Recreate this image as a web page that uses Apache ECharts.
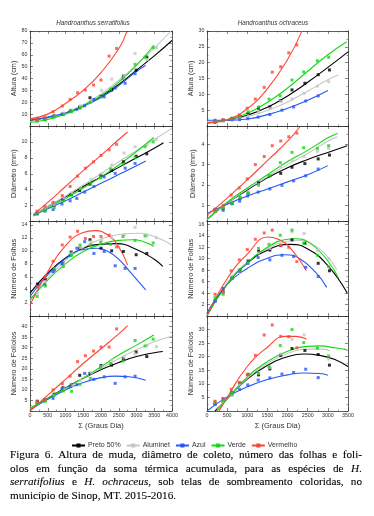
<!DOCTYPE html>
<html>
<head>
<meta charset="utf-8">
<script src="https://cdn.jsdelivr.net/npm/echarts@6/dist/echarts.min.js"></script>
<style>
  html, body { margin: 0; padding: 0; background: #fff; }
  #chart { position: absolute; left: 0; top: 0; width: 374px; height: 450px; }
  #caption {
    position: absolute; left: 10px; top: 448px; width: 352px;
    font-family: 'Liberation Serif', 'DejaVu Serif', serif;
    font-size: 11.2px; line-height: 13.5px; color: #000;
    -webkit-text-stroke: 0.1px #000;
  }
  #caption div { text-align: justify; text-align-last: justify; }
  #caption div.last { text-align: left; text-align-last: left; }
</style>
</head>
<body>
<div id="chart"></div>
<div id="caption">
  <div>Figura 6. Altura de muda, diâmetro de coleto, número das folhas e foli-</div>
  <div>olos em função da soma térmica acumulada, para as espécies de <i>H.</i></div>
  <div><i>serratifolius</i> e <i>H. ochraceus</i>, sob telas de sombreamento coloridas, no</div>
  <div class="last">município de Sinop, MT. 2015-2016.</div>
</div>
<script>
// treatments, in legend order: preto, aluminet, azul, verde, vermelho
const TREATMENTS = ['Preto 50%', 'Aluminet', 'Azul', 'Verde', 'Vermelho'];
const COLORS = ['#000000', '#c6c6c6', '#2457f5', '#14d814', '#ff4436'];

// accumulated degree-days of each sampling (H. serratifolius / H. ochraceus)
const GD_SERR = [
  [210, 430, 680, 930, 1160, 1400, 1690, 2000, 2300, 2630, 2990, 3290],
  [210, 430, 680, 950, 1180, 1420, 1720, 2020, 2300, 2650, 2960, 3300, 3560],
  [200, 420, 650, 900, 1130, 1320, 1540, 1800, 2090, 2400, 2680, 2960],
  [200, 430, 680, 940, 1170, 1410, 1700, 1990, 2270, 2620, 2960, 3240, 3470],
  [200, 420, 650, 910, 1130, 1340, 1560, 1790, 2000, 2230, 2440]
];
const GD_OCHR = [
  [200, 400, 620, 820, 1020, 1280, 1560, 1830, 2110, 2430, 2760, 3040],
  [200, 400, 620, 820, 1020, 1280, 1560, 1830, 2110, 2410, 2740, 3020],
  [200, 400, 620, 810, 1010, 1270, 1560, 1860, 2150, 2450, 2760],
  [200, 400, 620, 820, 1020, 1280, 1540, 1820, 2110, 2400, 2740, 3020],
  [200, 400, 600, 800, 1000, 1200, 1420, 1620, 1830, 2030, 2230]
];

// --- H. serratifolius ---
const ALTURA_SERR = [
  [5, 6, 8.5, 10, 13, 16, 23.8, 25, 30.3, 42, 47, 58],
  [4.5, 6, 8, 11, 13.5, 17, 21, 30, 39.5, 42, 61, 56, 66],
  [5, 6, 8, 10, 12.5, 14, 17, 22.4, 24.6, 32, 36, 44],
  [4, 5, 7.5, 9.5, 12, 15, 20, 24.5, 31, 40, 52, 58, 66],
  [5.5, 7.5, 12, 16.8, 22.4, 28, 30.3, 34.5, 38.7, 58.8, 65.3]
];
const ALTURA_SERR_FIT = [
  [[0, 4.5], [500, 7], [1000, 11], [1500, 17], [2000, 25], [2500, 35], [3000, 47], [3500, 59], [4000, 72]],
  [[0, 4], [500, 6.5], [1000, 11], [1500, 18], [2000, 27], [2500, 38.5], [3000, 51.5], [3500, 65.5], [3970, 80]],
  [[0, 5], [500, 7.5], [1000, 11], [1500, 16.5], [2000, 24], [2500, 34], [3000, 46], [3260, 51]],
  [[0, 3], [500, 5.5], [1000, 10], [1500, 16.5], [2000, 25.5], [2500, 37], [3000, 51], [3490, 68]],
  [[0, 6], [500, 10], [1000, 19], [1500, 30], [2000, 45], [2500, 65], [2720, 79]]
];
const DIAM_SERR = [
  [1.0, 1.5, 2.0, 2.8, 3.4, 3.9, 4.7, 5.8, 6.4, 7.5, 8.2, 8.5],
  [1.1, 1.6, 2.1, 3.0, 3.6, 4.2, 5.3, 6.0, 7.1, 8.6, 9.4, 9.6, 10.3],
  [1.0, 1.3, 1.5, 2.2, 2.6, 2.9, 3.7, 4.4, 5.6, 6.05, 6.7, 7.3],
  [0.9, 1.4, 1.7, 2.6, 3.3, 4.1, 4.8, 5.5, 6.6, 7.2, 8.0, 9.4, 10.0],
  [1.3, 1.9, 2.4, 3.25, 4.4, 5.7, 6.7, 7.5, 8.3, 9.0, 9.7]
];
const DIAM_SERR_FIT = [
  [[100, 0.8], [500, 1.9], [1000, 3.1], [1500, 4.4], [2000, 5.6], [2500, 6.8], [3000, 8.0], [3500, 9.2], [3760, 9.9]],
  [[100, 0.8], [500, 1.9], [1000, 3.2], [1500, 4.6], [2000, 6.0], [2500, 7.5], [3000, 8.9], [3500, 10.3], [4000, 11.7]],
  [[100, 0.8], [500, 1.6], [1000, 2.6], [1500, 3.7], [2000, 4.8], [2500, 5.9], [3000, 7.0], [3260, 7.6]],
  [[100, 0.7], [500, 1.7], [1000, 2.9], [1500, 4.2], [2000, 5.6], [2500, 7.1], [3000, 8.8], [3490, 10.55]],
  [[100, 0.9], [500, 2.4], [1000, 4.4], [1500, 6.4], [2000, 8.3], [2500, 10.3], [2750, 11.25]]
];
const FOLHAS_SERR = [
  [4.9, 5.6, 7.0, 8.1, 9.8, 10.4, 11.7, 10.4, 10.0, 9.9, 9.4, 9.6],
  [3.5, 5.3, 6.8, 8.0, 9.6, 10.5, 11.4, 11.6, 12.0, 12.5, 13.6, 12.3, 12.0],
  [4.6, 4.8, 6.8, 8.0, 9.3, 10.4, 11.4, 9.6, 9.9, 7.7, 7.3, 7.3],
  [3.0, 4.6, 7.3, 7.6, 9.3, 10.9, 10.9, 11.3, 11.0, 12.2, 11.6, 12.3, 11.2],
  [4.5, 5.9, 8.4, 10.9, 12.1, 13.0, 11.9, 12.2, 12.2, 12.4, 10.6]
];
const FOLHAS_SERR_FIT = [
  [[0, 3.5], [500, 6.6], [1000, 8.9], [1500, 10.4], [2000, 11.0], [2440, 11.1], [3000, 10.2], [3500, 8.7], [3740, 7.6]],
  [[0, 2.3], [500, 5.8], [1000, 8.5], [1500, 10.5], [2000, 11.8], [2500, 12.5], [3100, 12.7], [3500, 12.2], [4000, 10.9]],
  [[0, 3], [500, 6.3], [1000, 8.8], [1500, 10.2], [1900, 10.4], [2200, 9.9], [2500, 8.7], [2800, 6.9], [3260, 4.0]],
  [[0, 2.5], [500, 5.5], [1000, 8.0], [1500, 9.9], [2000, 11.0], [2500, 11.6], [2900, 11.7], [3200, 11.4], [3490, 10.7]],
  [[0, 1.7], [500, 6.8], [1000, 10.8], [1500, 12.8], [1830, 13.1], [2200, 12.4], [2500, 10.6], [2750, 7.8]]
];
const FOLIOLOS_SERR = [
  [4.6, 5.3, 8, 11, 12.3, 16.9, 17.8, 21.5, 21.7, 24.8, 27.9, 25.8],
  [3.8, 5.3, 7.5, 10.5, 12, 14.5, 18, 21, 24.2, 25.5, 27, 31, 30.5],
  [3.8, 5.3, 6, 10.5, 11.5, 12.5, 17.8, 15, 16.2, 13.1, 16.2, 16.5],
  [3.5, 4.6, 7.5, 9.5, 9.3, 12.6, 15.5, 20.5, 22.5, 23.7, 33.4, 30.8, 34],
  [4.6, 5.5, 10, 13, 16.5, 23.4, 26.2, 28.4, 30.3, 30.3, 38.9]
];
const FOLIOLOS_SERR_FIT = [
  [[0, 1], [500, 6], [1000, 11], [1500, 15.5], [2000, 19.5], [2500, 23], [3000, 25.8], [3500, 27.6], [3740, 28.2]],
  [[0, 1], [500, 5.5], [1000, 10.5], [1500, 15.5], [2000, 20.2], [2500, 24.8], [3000, 29], [3500, 32.8], [4000, 35.4]],
  [[0, 0.5], [500, 5.5], [1000, 10], [1500, 13.5], [2000, 15.8], [2400, 16.5], [2800, 16.2], [3260, 14.6]],
  [[0, 1.3], [500, 6], [1000, 10.8], [1500, 15.7], [2000, 21], [2500, 26.5], [3000, 31.2], [3490, 36]],
  [[0, 0], [500, 7.5], [1000, 15], [1500, 22.5], [2000, 29.5], [2500, 36.5], [2750, 40.4]]
];

// --- H. ochraceus ---
const ALTURA_OCHR = [
  [1.2, 1.7, 2.2, 3.0, 4.0, 5.6, 6.0, 8.0, 11.4, 13.5, 16.2, 17.7],
  [1.4, 1.6, 2.0, 2.6, 3.2, 4.5, 5.5, 7.8, 8.5, 10.3, 12.6, 14],
  [1.8, 1.9, 2.0, 2.0, 2.3, 2.8, 3.6, 5.0, 6.0, 7.9, 9.5],
  [1.3, 1.8, 2.5, 3.0, 4.5, 6.0, 8.5, 9.5, 14.5, 17.1, 20.6, 21.7],
  [1.3, 2.0, 2.3, 3.5, 5.6, 8.5, 12.2, 17, 18.7, 23.1, 25.6]
];
const ALTURA_OCHR_FIT = [
  [[0, 1], [500, 1.8], [1000, 3.4], [1500, 5.9], [2000, 9.5], [2500, 13.8], [3000, 18.5], [3510, 23.5]],
  [[0, 1.3], [500, 1.8], [1000, 3.0], [1500, 4.9], [2000, 7.6], [2500, 11], [3000, 14.6], [3260, 16.1]],
  [[0, 1.8], [500, 1.8], [1000, 2.2], [1500, 3.6], [2000, 5.6], [2500, 8.1], [3000, 11.2]],
  [[0, 1], [500, 2], [1000, 4], [1500, 7.5], [2000, 12], [2500, 17.3], [3000, 22.5], [3470, 26.6]],
  [[0, 1], [500, 2], [1000, 5.5], [1500, 11.8], [2000, 21], [2350, 29.8]]
];
const DIAM_OCHR = [
  [0.7, 0.85, 1.1, 1.35, 1.6, 2.1, 2.45, 2.57, 2.87, 3.05, 3.28, 3.47],
  [0.7, 0.9, 1.1, 1.4, 1.65, 2.0, 2.5, 2.9, 3.2, 3.4, 3.65, 3.8],
  [0.8, 0.75, 1.07, 1.2, 1.45, 1.65, 1.8, 1.98, 2.2, 2.45, 2.78],
  [0.7, 0.9, 1.1, 1.4, 1.6, 2.0, 2.47, 3.1, 3.6, 3.83, 3.8, 3.93],
  [0.8, 1.0, 1.5, 1.85, 2.3, 3.0, 3.4, 3.93, 4.16, 4.37, 4.55]
];
const DIAM_OCHR_FIT = [
  [[0, 0.3], [500, 1.1], [1000, 1.75], [1500, 2.35], [2000, 2.85], [2500, 3.25], [3000, 3.6], [3480, 3.93]],
  [[0, 0.3], [500, 1.1], [1000, 1.8], [1500, 2.4], [2000, 3.0], [2500, 3.55], [3000, 4.15], [3240, 4.37]],
  [[0, 0.6], [500, 1.05], [1000, 1.45], [1500, 1.8], [2000, 2.15], [2500, 2.5], [3000, 2.95]],
  [[0, 0.3], [500, 1.15], [1000, 1.85], [1500, 2.5], [2000, 3.15], [2500, 3.7], [3000, 4.32], [3240, 4.53]],
  [[0, 0.5], [500, 1.35], [1000, 2.25], [1500, 3.2], [2000, 4.15], [2300, 4.85]]
];
const FOLHAS_OCHR = [
  [2.6, 4.2, 6.6, 8.0, 9.6, 11.3, 11.5, 12.3, 13.3, 12.7, 9.2, 7.9],
  [2.6, 4.0, 6.5, 7.6, 9.2, 11.0, 11.8, 12.5, 14.7, 14.4, 11.4, 10.0],
  [2.6, 4.8, 6.6, 7.8, 9.2, 10.2, 9.8, 10.6, 10.4, 8.5, 6.9],
  [3.2, 3.8, 6.8, 8.0, 9.4, 11.8, 12.5, 14.1, 15.0, 12.7, 10.6, 8.6],
  [3.8, 4.3, 7.9, 9.8, 11.6, 13.4, 14.5, 15.0, 12.3, 12.0, 9.5]
];
const FOLHAS_OCHR_FIT = [
  [[0, 0.3], [500, 5.6], [1000, 9.2], [1500, 11.5], [2060, 12.5], [2500, 11.7], [3000, 8.8], [3480, 4.0]],
  [[0, 0.5], [500, 5.8], [1000, 9.4], [1500, 11.8], [2000, 13.0], [2300, 13.2], [2700, 12.2], [3000, 10.3], [3220, 8.1]],
  [[0, 0.5], [500, 5.5], [1000, 8.3], [1500, 10.1], [1940, 10.7], [2300, 10.0], [2700, 7.6], [2970, 5.0]],
  [[0, 0], [500, 5.5], [1000, 9.3], [1500, 12], [2000, 13.4], [2200, 13.5], [2600, 12.5], [3000, 9.6], [3260, 6.7]],
  [[0, 0], [500, 6.5], [1000, 10.8], [1520, 13.8], [1800, 13.3], [2100, 11.6], [2470, 7.9]]
];
const FOLIOLOS_OCHR = [
  [2.5, 3.5, 6, 10.2, 13.5, 13.3, 15.5, 20.5, 23, 22.3, 20.8, 16.9],
  [2.5, 3.5, 6, 10, 13, 14, 16, 21, 26.4, 28, 23, 19.1],
  [2.5, 4.5, 6.8, 8, 9.6, 11.4, 12.2, 13.6, 14.2, 15.4, 12.3],
  [3.3, 3.8, 6.5, 10.5, 13.4, 13.8, 16.3, 24.1, 30, 25.2, 23.2, 20.3],
  [3.6, 4.6, 8, 10.5, 13.3, 20.5, 28, 31.7, 27.5, 27.4, 23.3]
];
const FOLIOLOS_OCHR_FIT = [
  [[200, 0], [500, 4.5], [1000, 11.8], [1500, 16.8], [2000, 20], [2400, 21], [2800, 20.5], [3200, 18.8], [3500, 16.4]],
  [[250, 0.5], [500, 4.5], [1000, 12], [1500, 17.5], [2000, 21.2], [2500, 22.8], [2800, 22.8], [3050, 22.3]],
  [[0, 0], [500, 5.2], [1000, 8.9], [1500, 11.6], [2000, 13.3], [2400, 14], [2800, 13.8], [3000, 13.2]],
  [[250, 0], [500, 4.5], [1000, 12.5], [1500, 18.2], [2000, 22], [2500, 23.8], [2800, 24], [3200, 23.2], [3470, 22.6]],
  [[300, 0], [500, 5], [1000, 16.4], [1500, 23.5], [1940, 27.5], [2200, 27.5], [2470, 26.5]]
];

const X_MAX = [4000, 3500];
const SPECIES = ['Handroanthus serratifolius', 'Handroanthus ochraceus'];

// panel grid: column 0 = serratifolius, column 1 = ochraceus
const PANELS = [
  { col: 0, row: 0, name: 'Altura (cm)', y: ALTURA_SERR, fit: ALTURA_SERR_FIT, min: 0, max: 80, step: 10, showMax: true },
  { col: 1, row: 0, name: 'Altura (cm)', y: ALTURA_OCHR, fit: ALTURA_OCHR_FIT, min: 0, max: 30, step: 5, showMax: true },
  { col: 0, row: 1, name: 'Diâmetro (mm)', y: DIAM_SERR, fit: DIAM_SERR_FIT, min: 0, max: 12, step: 2 },
  { col: 1, row: 1, name: 'Diâmetro (mm)', y: DIAM_OCHR, fit: DIAM_OCHR_FIT, min: 0.2, max: 4.9, step: 1, auto: true },
  { col: 0, row: 2, name: 'Número de Folhas', y: FOLHAS_SERR, fit: FOLHAS_SERR_FIT, min: 0, max: 14.5, step: 2, showMax: true },
  { col: 1, row: 2, name: 'Número de Folhas', y: FOLHAS_OCHR, fit: FOLHAS_OCHR_FIT, min: 0, max: 16.5, step: 2, showMax: true },
  { col: 0, row: 3, name: 'Número de Folíolos', y: FOLIOLOS_SERR, fit: FOLIOLOS_SERR_FIT, min: 0, max: 45, step: 5 },
  { col: 1, row: 3, name: 'Número de Folíolos', y: FOLIOLOS_OCHR, fit: FOLIOLOS_OCHR_FIT, min: 0, max: 35, step: 5 }
];

// layout
const COL_LEFT = [30, 207];
const COL_W = [142, 141];
const ROW_TOP = [31, 126, 221.5, 316];
const ROW_H = [95, 95.5, 94.5, 95];
const INK = '#333';
const FONT = 'Liberation Sans, Arial, sans-serif';

const chart = echarts.init(document.getElementById('chart'), null, { renderer: 'canvas' });

const tickStyle = {
  axisLine: { show: true, onZero: false, lineStyle: { color: INK, width: 0.8 } },
  axisTick: { show: true, inside: true, length: 3, lineStyle: { color: INK, width: 0.6 } },
  minorTick: { show: true, splitNumber: 2, length: 1.5, lineStyle: { color: INK, width: 0.5 } },
  splitLine: { show: false },
  minorSplitLine: { show: false }
};

function xAxisFor(gi, col, pos, labels) {
  return Object.assign({
    type: 'value', gridIndex: gi, position: pos,
    min: 0, max: X_MAX[col], interval: 500,
    axisLabel: {
      show: labels, fontSize: 5.3, color: INK, margin: 2.5, fontFamily: FONT,
      showMinLabel: true, showMaxLabel: true,
      formatter: v => String(v)
    },
    name: labels ? 'Σ (Graus Dia)' : '',
    nameLocation: 'middle', nameGap: 11,
    nameTextStyle: { fontSize: 7.5, color: INK, fontFamily: FONT }
  }, tickStyle);
}

function yAxisFor(gi, p, pos, labels) {
  const ax = Object.assign({
    type: 'value', gridIndex: gi, position: pos,
    min: p.min, max: p.max,
    axisLabel: {
      show: labels, fontSize: 5.3, color: INK, margin: 2.5, fontFamily: FONT,
      formatter: v => {
        if (v <= 0) return '';
        if (Math.abs(v / p.step - Math.round(v / p.step)) > 1e-6) return '';
        if (!p.showMax && v >= p.max - 1e-9) return '';
        return String(v);
      }
    },
    name: labels ? p.name : '',
    nameLocation: 'middle', nameGap: 11,
    nameTextStyle: { fontSize: 7.3, color: INK, fontFamily: FONT }
  }, tickStyle);
  if (p.auto) ax.splitNumber = 5; else ax.interval = p.step;
  return ax;
}

const grid = [], xAxis = [], yAxis = [], lineSeries = [], dotSeries = [];

PANELS.forEach((p, i) => {
  grid.push({
    left: COL_LEFT[p.col], top: ROW_TOP[p.row], width: COL_W[p.col], height: ROW_H[p.row],
    containLabel: false, outerBoundsMode: 'none'
  });
  const bottomRow = p.row === 3;
  xAxis.push(xAxisFor(i, p.col, 'bottom', bottomRow));
  xAxis.push(xAxisFor(i, p.col, 'top', false));
  yAxis.push(yAxisFor(i, p, 'left', true));
  yAxis.push(yAxisFor(i, p, 'right', false));

  const gd = p.col === 0 ? GD_SERR : GD_OCHR;
  TREATMENTS.forEach((name, k) => {
    lineSeries.push({
      type: 'line', name, xAxisIndex: 2 * i, yAxisIndex: 2 * i,
      data: p.fit[k],
      smooth: 0.5,
      symbol: 'rect', symbolSize: 3, showSymbol: false,
      lineStyle: { color: COLORS[k], width: 1.1 },
      itemStyle: { color: COLORS[k] },
      silent: true, z: 2
    });
    dotSeries.push({
      type: 'scatter', name, xAxisIndex: 2 * i, yAxisIndex: 2 * i,
      data: gd[k].map((x, j) => [x, p.y[k][j]]),
      symbol: 'rect', symbolSize: 3,
      itemStyle: { color: COLORS[k] },
      silent: true, z: 3
    });
  });
});

const option = {
  backgroundColor: '#fff',
  animation: false,
  textStyle: { fontFamily: FONT },
  grid, xAxis, yAxis,
  graphic: [
    { type: 'text', x: 93, y: 23, style: { text: SPECIES[0], align: 'center', verticalAlign: 'middle', fontSize: 6.3, fontStyle: 'italic', fontFamily: FONT, fill: INK } },
    { type: 'text', x: 273, y: 23, style: { text: SPECIES[1], align: 'center', verticalAlign: 'middle', fontSize: 6.3, fontStyle: 'italic', fontFamily: FONT, fill: INK } }
  ],
  legend: {
    data: TREATMENTS,
    left: 66, top: 437,
    itemWidth: 13, itemHeight: 5, itemGap: 5,
    textStyle: { fontSize: 7, color: INK, fontFamily: FONT, padding: [0, 0, 0, -2] },
    selectedMode: false
  },
  series: lineSeries.concat(dotSeries)
};

chart.setOption(option);
</script>
</body>
</html>
